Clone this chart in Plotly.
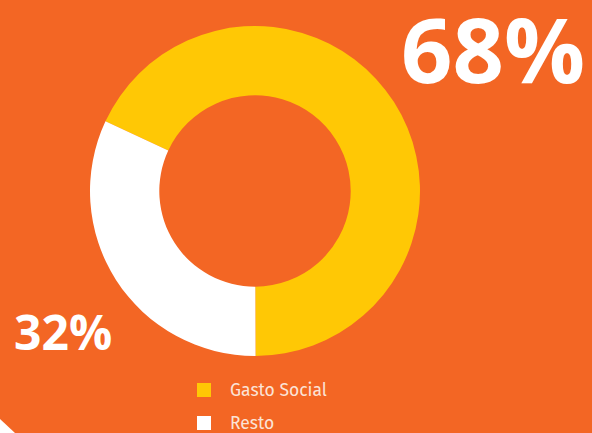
import plotly.graph_objects as go

labels = ["Gasto Social", "Resto"]
values = [68, 32]
colors = ["#FFC805", "#FFFFFF"]
pct_labels = ["68%", "32%"]

W, H = 592, 433
bg = "#F36624"

cx, cy, r = 255, 191, 165
fig = go.Figure(go.Pie(
    labels=labels, values=values, hole=0.58, sort=False,
    direction="clockwise", rotation=-65,
    marker=dict(colors=colors, line=dict(width=0)),
    textinfo="none", hoverinfo="label+percent", showlegend=False,
    domain=dict(x=[(cx - r) / W, (cx + r) / W], y=[1 - (cy + r) / H, 1 - (cy - r) / H]),
))

font = "Open Sans, DejaVu Sans, sans-serif"
annotations = [
    dict(text=f"<b>{pct_labels[0]}</b>", x=493 / W, y=1 - 48 / H, xref="paper", yref="paper",
         showarrow=False, font=dict(size=90, color="white", family=font), xanchor="center", yanchor="middle"),
    dict(text=f"<b>{pct_labels[1]}</b>", x=63 / W, y=1 - 331 / H, xref="paper", yref="paper",
         showarrow=False, font=dict(size=48, color="white", family=font), xanchor="center", yanchor="middle"),
]
shapes = [
    dict(type="path", xref="paper", yref="paper",
         path=f"M 0 0 L 0 {14 / H} L {15 / W} 0 Z", fillcolor="white", line=dict(width=0)),
]
leg_y = [390, 423]
for lab, col, yy in zip(labels, colors, leg_y):
    shapes.append(dict(type="rect", xref="paper", yref="paper",
                       x0=197 / W, x1=211 / W, y0=1 - (yy + 7) / H, y1=1 - (yy - 7) / H,
                       fillcolor=col, line=dict(width=0)))
    annotations.append(dict(text=lab, x=228 / W, y=1 - yy / H, xref="paper", yref="paper",
                            showarrow=False, xanchor="left", yanchor="middle",
                            font=dict(size=17.5, color="#FBE3D6", family="Fira Sans, Ubuntu, Open Sans, sans-serif")))

fig.update_layout(width=W, height=H, margin=dict(l=0, r=0, t=0, b=0),
                  paper_bgcolor=bg, plot_bgcolor=bg,
                  annotations=annotations, shapes=shapes)
fig.write_html("out.html", config={"displayModeBar": False},
               post_script="document.body.style.margin='0';document.body.style.overflow='hidden';")
